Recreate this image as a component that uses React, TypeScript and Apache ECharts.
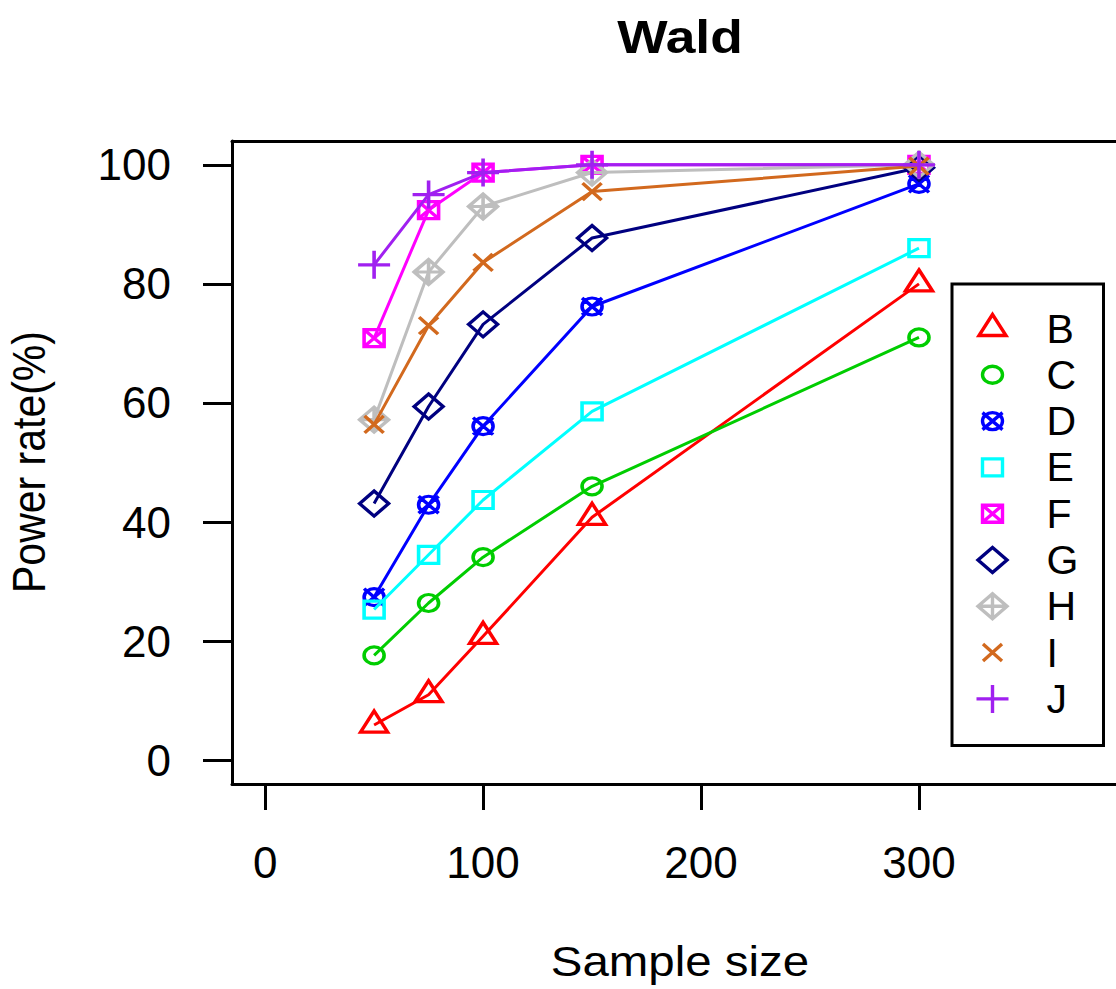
import React, { useEffect, useRef } from 'react';
import * as echarts from 'echarts';

// ---- data ----
const sampleSizes = [50, 75, 100, 150, 300];
const seriesNames = ['B', 'C', 'D', 'E', 'F', 'G', 'H', 'I', 'J'];
const valsB = [5.9, 11.0, 20.8, 40.8, 80.0];
const valsC = [17.6, 26.4, 34.1, 46.0, 71.0];
const valsD = [27.4, 42.9, 56.1, 76.2, 96.8];
const valsE = [25.3, 34.5, 43.7, 58.6, 86.0];
const valsF = [70.9, 92.4, 98.7, 100, 100];
const valsG = [43.1, 59.4, 73.2, 87.7, 99.5];
const valsH = [57.2, 82.0, 93.0, 98.7, 100];
const valsI = [56.4, 73.0, 83.6, 95.5, 99.8];
const valsJ = [83.2, 95.0, 98.7, 100, 100];
const xTicks = [0, 100, 200, 300];
const yTicks = [0, 20, 40, 60, 80, 100];
const titleText = 'Wald';
const xName = 'Sample size';
const yName = 'Power rate(%)';

const colors = ['#FF0000', '#00CD00', '#0000FF', '#00FFFF', '#FF00FF', '#000080', '#BEBEBE', '#D2691E', '#A020F0'];
const FONT = '"Liberation Sans", Arial, Helvetica, sans-serif';

// symbol paths in a common 36x32 frame (anchors fix the bounding box)
const ANCH = 'M0 0 M36 32 ';
const circ = 'M8 16 A10 8.5 0 1 0 28 16 A10 8.5 0 1 0 8 16 Z';
const sq = 'M8 7.5 L28 7.5 L28 24.5 L8 24.5 Z';
const dia = 'M3.5 16 L18 3.5 L32.5 16 L18 28.5 Z';
const symbols = [
  'path://' + ANCH + 'M18 2 L31.5 23 L4.5 23 Z',
  'path://' + ANCH + circ,
  'path://' + ANCH + circ + ' M8 7.5 L28 24.5 M28 7.5 L8 24.5',
  'path://' + ANCH + sq,
  'path://' + ANCH + sq + ' M8 7.5 L28 24.5 M28 7.5 L8 24.5',
  'path://' + ANCH + dia,
  'path://' + ANCH + dia + ' M3.5 16 L32.5 16 M18 3.5 L18 28.5',
  'path://' + ANCH + 'M8.5 7.5 L27.5 24.5 M27.5 7.5 L8.5 24.5',
  'path://' + ANCH + 'M2 16 L34 16 M18 2 L18 30',
];

export default function App() {
  const ref = useRef<HTMLDivElement>(null);
  useEffect(() => {
    if (!ref.current) return;
    const chart = echarts.init(ref.current, null, { renderer: 'svg' });
    const allVals = [valsB, valsC, valsD, valsE, valsF, valsG, valsH, valsI, valsJ];
    const axisCommon = { min: -15.2, max: 390.4, type: 'value' as const };
    chart.setOption({
      animation: false,
      backgroundColor: '#fff',
      grid: { left: 232, right: 0, top: 141, bottom: 205, show: false },
      xAxis: [
        {
          ...axisCommon,
          position: 'bottom',
          axisLine: { show: true, onZero: false, lineStyle: { color: '#000', width: 3 } },
          axisTick: { show: true, length: 26, inside: false, lineStyle: { color: '#000', width: 3 }, customValues: xTicks },
          axisLabel: { show: true, customValues: xTicks, margin: 78, verticalAlign: 'middle', fontSize: 44, fontFamily: FONT, color: '#000' },
          splitLine: { show: false },
        },
        {
          ...axisCommon,
          position: 'top',
          axisLine: { show: true, onZero: false, lineStyle: { color: '#000', width: 3 } },
          axisTick: { show: false },
          axisLabel: { show: false },
          splitLine: { show: false },
        },
      ],
      yAxis: {
        type: 'value',
        min: -4,
        max: 104,
        axisLine: { show: true, onZero: false, lineStyle: { color: '#000', width: 3 } },
        axisTick: { show: true, length: 29, inside: false, lineStyle: { color: '#000', width: 3 }, customValues: yTicks },
        axisLabel: { show: true, customValues: yTicks, margin: 61, fontSize: 44, fontFamily: FONT, color: '#000' },
        splitLine: { show: false },
      },
      legend: {
        orient: 'vertical',
        left: 952,
        top: 284,
        padding: [24, 17, 26, 20],
        borderColor: '#000',
        borderWidth: 3,
        backgroundColor: '#fff',
        itemWidth: 36,
        itemHeight: 32,
        itemGap: 5.3,
        selectedMode: false,
        textStyle: { fontSize: 41, fontFamily: FONT, color: '#000', lineHeight: 39, width: 40, padding: [0, 0, 0, 31] },
        data: seriesNames.map((n, i) => ({
          name: n,
          icon: symbols[i],
          itemStyle: { color: 'none', borderColor: colors[i], borderWidth: 3.4 },
        })),
      },
      graphic: [
        {
          type: 'text', x: 680, y: 37, scaleX: 1.16,
          style: { text: titleText, fontSize: 46, fontWeight: 'bold', fontFamily: FONT, fill: '#000', align: 'center', verticalAlign: 'middle', textAlign: 'center', textVerticalAlign: 'middle' },
        },
        {
          type: 'text', x: 680, y: 961, scaleX: 1.13,
          style: { text: xName, fontSize: 42, fontFamily: FONT, fill: '#000', align: 'center', verticalAlign: 'middle', textAlign: 'center', textVerticalAlign: 'middle' },
        },
        {
          type: 'text', x: 29, y: 462, rotation: Math.PI / 2, scaleY: 1.13,
          style: { text: yName, fontSize: 41, fontFamily: FONT, fill: '#000', align: 'center', verticalAlign: 'middle', textAlign: 'center', textVerticalAlign: 'middle' },
        },
      ],
      series: allVals.map((vals, i) => ({
        name: seriesNames[i],
        type: 'line',
        xAxisIndex: 0,
        yAxisIndex: 0,
        z: 2 + i,
        data: sampleSizes.map((x, j) => [x, vals[j]]),
        symbol: symbols[i],
        symbolSize: [36, 32],
        showSymbol: true,
        itemStyle: { color: 'none', borderColor: colors[i], borderWidth: 3.4 },
        lineStyle: { color: colors[i], width: 3 },
        emphasis: { disabled: true },
        clip: false,
      })),
    });
    return () => chart.dispose();
  }, []);
  return <div ref={ref} style={{ position: 'absolute', left: 0, top: 0, width: 1116, height: 989 }} />;
}
